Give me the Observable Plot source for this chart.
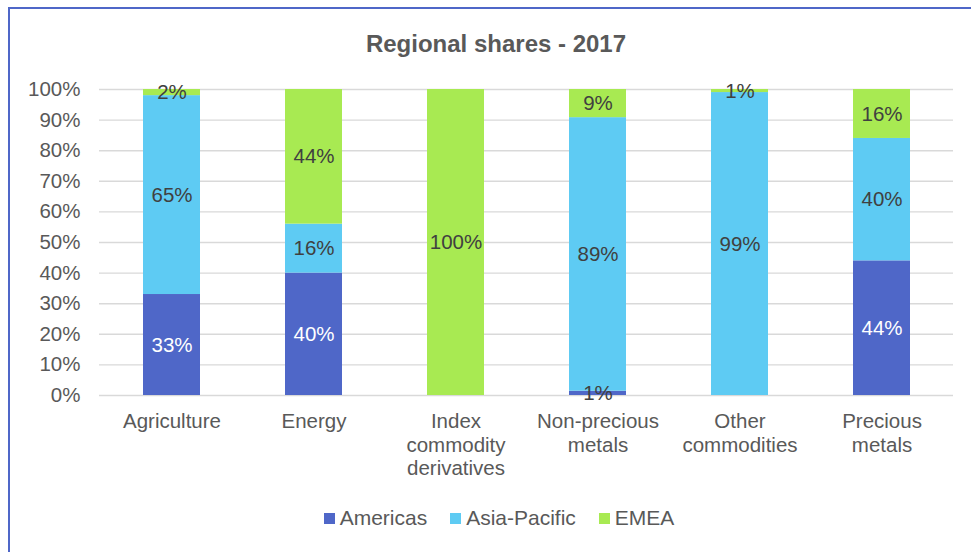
<!DOCTYPE html>
<html>
<head>
<meta charset="utf-8">
<script src="https://cdn.jsdelivr.net/npm/d3@7"></script>
<script src="https://cdn.jsdelivr.net/npm/@observablehq/plot@0.6"></script>
<style>
  html, body { margin: 0; padding: 0; background: #fff; }
  #wrap { position: relative; width: 971px; height: 552px; overflow: hidden; font-family: "Liberation Sans", Arial, sans-serif; }
  #frame { position: absolute; left: 8px; top: 7px; width: 1100px; height: 700px; border: 2px solid #4f67c8; box-sizing: border-box; }
  #title { position: absolute; left: 0; top: 32px; width: 992px; text-align: center; font-weight: bold; font-size: 24px; line-height: 24px; color: #595959; }
  #chart { position: absolute; left: 0; top: 0; }
  #legend { position: absolute; left: 0; top: 506px; width: 998px; display: flex; justify-content: center; font-size: 21px; line-height: 24px; color: #595959; }
  .item { display: flex; align-items: center; margin: 0 11.5px; }
  .sw { width: 11px; height: 11px; margin-right: 5px; }
</style>
</head>
<body>
<div id="wrap">
  <div id="frame"></div>
  <div id="chart"></div>
  <div id="title">Regional shares - 2017</div>
  <div id="legend"></div>
</div>
<script>
const categories = ["Agriculture", "Energy", "Index commodity derivatives", "Non-precious metals", "Other commodities", "Precious metals"];
const categoryLabels = ["Agriculture", "Energy", "Index\ncommodity\nderivatives", "Non-precious\nmetals", "Other\ncommodities", "Precious\nmetals"];
const regions = ["Americas", "Asia-Pacific", "EMEA"];
const regionColors = ["#4f67c8", "#5ecbf3", "#a8ea52"];
const americas = [33, 40, 0, 1.4, 0, 44];
const asiaPacific = [65, 16, 0, 89.4, 99, 40];
const emea = [2, 44, 100, 9.2, 1, 16];
const yTicks = [0, 10, 20, 30, 40, 50, 60, 70, 80, 90, 100];

const series = [americas, asiaPacific, emea];
const rows = [];
categories.forEach((c, i) => {
  regions.forEach((r, j) => rows.push({category: c, region: r, value: series[j][i]}));
});
const labelMap = new Map(categories.map((c, i) => [c, categoryLabels[i]]));

const chart = Plot.plot({
  width: 971,
  height: 490,
  marginTop: 89,
  marginLeft: 99,
  marginRight: 18,
  marginBottom: 95,
  style: {fontFamily: '"Liberation Sans", Arial, sans-serif', background: "transparent"},
  x: {domain: categories, paddingInner: 0.6, paddingOuter: 0.3, label: null},
  y: {domain: [0, 100], label: null},
  color: {domain: regions, range: regionColors},
  marks: [
    Plot.gridY(yTicks, {stroke: "#d9d9d9", strokeOpacity: 1, strokeWidth: 1.4}),
    Plot.barY(rows, {x: "category", y: "value", fill: "region", order: regions}),
    Plot.text(rows.filter(d => d.value > 0), Plot.stackY({
      x: "category", y: "value", order: regions,
      text: d => Math.round(d.value) + "%",
      fill: d => (d.region === "Americas" && d.value > 5) ? "#ffffff" : "#404040",
      fontSize: 20.5
    })),
    Plot.axisY(yTicks, {tickSize: 0, tickPadding: 19, tickFormat: d => d + "%", fontSize: 20.5, fill: "#595959", label: null}),
    Plot.axisX({tickSize: 0, tickPadding: 16, tickFormat: d => labelMap.get(d), fontSize: 20.5, lineHeight: 1.15, fill: "#595959", label: null})
  ]
});
document.getElementById("chart").appendChild(chart);

const legend = document.getElementById("legend");
regions.forEach((r, i) => {
  const item = document.createElement("div");
  item.className = "item";
  const sw = document.createElement("span");
  sw.className = "sw";
  sw.style.background = regionColors[i];
  const t = document.createElement("span");
  t.textContent = r;
  item.appendChild(sw);
  item.appendChild(t);
  legend.appendChild(item);
});
</script>
</body>
</html>
